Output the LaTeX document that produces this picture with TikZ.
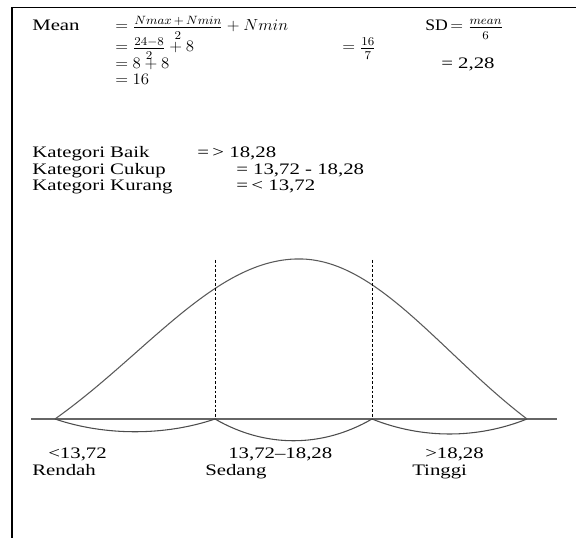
\documentclass[tikz,border=0pt]{standalone}
\usepackage{amsmath}
\usepackage{fontspec}
\setmainfont{Liberation Serif}
\usepackage{graphicx}
\DeclareMathSizes{12}{12}{9.5}{7}
\newcommand{\sx}[1]{\scalebox{1.3}[1]{#1}}
\newcommand{\mx}[1]{\scalebox{1.05}[1]{#1}}
\newcommand{\dn}[1]{\raisebox{-2pt}{$\scriptstyle #1$}}
\newcommand{\dnb}[1]{\raisebox{-1.5pt}{$\scriptstyle #1$}}
\begin{document}
\begin{tikzpicture}[x=0.75pt,y=-0.75pt,
  txt/.style={anchor=base west, inner sep=0pt, font=\fontsize{12}{14}\selectfont},
  frame/.style={line width=1.4pt, black},
  bell/.style={line width=0.8pt, black!65},
  axisline/.style={line width=0.8pt, black!60},
  arcline/.style={line width=0.8pt, black!70},
  guide/.style={line width=0.7pt, black, dash pattern=on 2pt off 1.5pt}]
\useasboundingbox (0,0) rectangle (576,538);
% frame
\coordinate (ftl) at (12,7.5);
\coordinate (ftr) at (576,7.5);
\coordinate (fbl) at (12,538);
\draw[frame] (ftr) -- (ftl) -- (fbl);
% formulas
\node[txt] (mean) at (32,31) {\sx{Mean}};
\node[txt] (meq1) at (115,31) {\mx{$= \tfrac{Nmax\,+\,Nmin}{\dn{2}}+Nmin$}};
\node[txt] (meq2) at (115,52) {\mx{$=\tfrac{24-8}{\dnb{2}}+8$}};
\node[txt] (meq3) at (115,69) {\mx{$=8+8$}};
\node[txt] (meq4) at (115,85) {\mx{$=16$}};
\node[txt] (sd) at (425,31) {\scalebox{1.1}[1]{SD}\,\mx{$=\tfrac{mean}{\dn{6}}$}};
\node[txt] (sdeq2) at (342,52) {\mx{$=\tfrac{16}{\dnb{7}}$}};
\node[txt] (sdeq3) at (441,69) {\sx{= 2,28}};
% categories
\node[txt] (kb) at (32,158) {\sx{Kategori Baik}};
\node[txt] (kbv) at (197,158) {\sx{=\,> 18,28}};
\node[txt] (kc) at (32,174.5) {\sx{Kategori Cukup}};
\node[txt] (kcv) at (236,174.5) {\sx{= 13,72 - 18,28}};
\node[txt] (kk) at (32,191) {\sx{Kategori Kurang}};
\node[txt] (kkv) at (236,191) {\sx{=\,< 13,72}};
% graph
\coordinate (A) at (55,419);
\coordinate (B) at (215,419);
\coordinate (C) at (372,419);
\coordinate (D) at (527,419);
\coordinate (axL) at (31,419);
\coordinate (axR) at (557,419);
\coordinate (gB) at (215,260);
\coordinate (gC) at (372,260);
\draw[axisline] (axL) -- (axR);
\draw[bell] plot[domain=55:299,samples=60,smooth] (\x,{419-160*(exp(-0.5*((299-\x)*1.5/244)^2)-0.324652)/0.675348})
  -- plot[domain=299:527,samples=60,smooth] (\x,{419-160*(exp(-0.5*((\x-299)*1.5/228)^2)-0.324652)/0.675348});
\draw[guide] (gB) -- (B);
\draw[guide] (gC) -- (C);
\draw[arcline] (A) .. controls +(50,17) and +(-50,17) .. (B);
\draw[arcline] (B) .. controls +(50,29) and +(-50,29) .. (C);
\draw[arcline] (C) .. controls +(50,20) and +(-50,20) .. (D);
% labels
\node[txt] (l1) at (48,459) {\sx{<13,72}};
\node[txt] (l1b) at (32,476) {\sx{Rendah}};
\node[txt] (l2) at (228,459) {\sx{13,72--18,28}};
\node[txt] (l2b) at (205,476) {\sx{Sedang}};
\node[txt] (l3) at (425,459) {\sx{>18,28}};
\node[txt] (l3b) at (412,476) {\sx{Tinggi}};
\end{tikzpicture}
\end{document}
